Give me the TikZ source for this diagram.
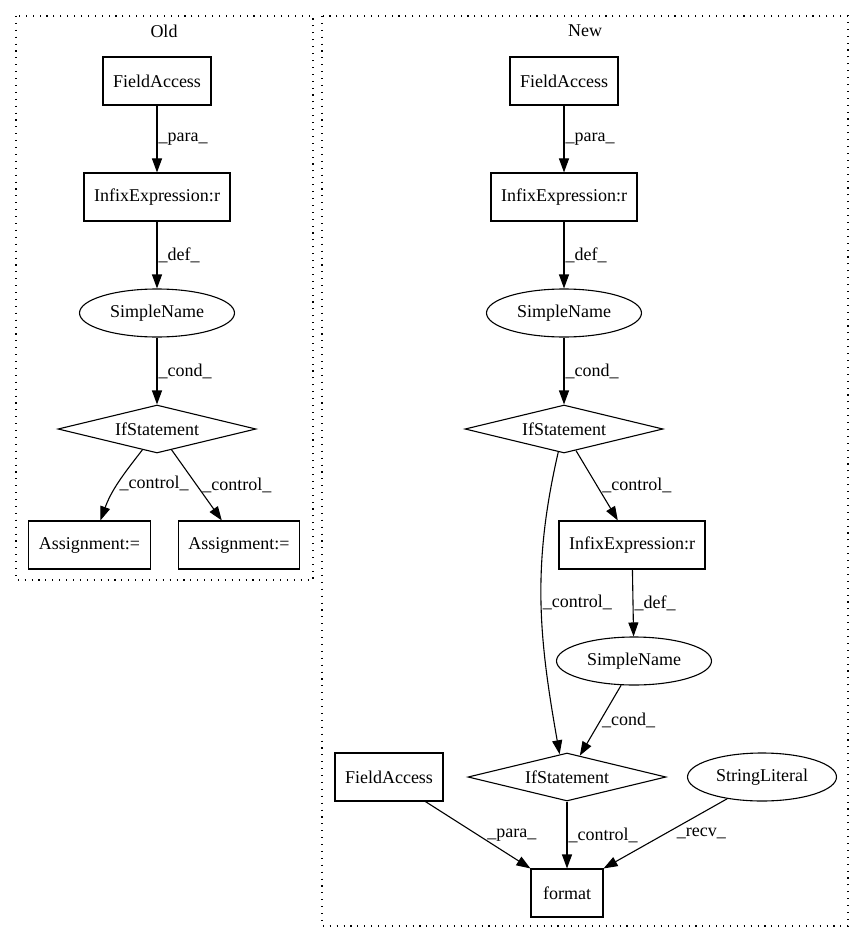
\documentclass[tikz,border=0pt]{standalone}
\usepackage{fontspec}
\setmainfont{Liberation Serif}
\usetikzlibrary{shapes.geometric,arrows.meta}

\begin{document}
\begin{tikzpicture}[x=1pt,y=1pt,font=\fontsize{18}{21}\selectfont,
  box/.style={draw,rectangle,line width=1.1pt,minimum width=72pt,minimum height=48pt,inner xsep=10pt},
  oval/.style={draw,ellipse,line width=1.1pt,minimum height=48pt,inner sep=0pt},
  cond/.style={draw,diamond,line width=1.1pt,aspect=4,minimum width=198pt,minimum height=48pt,inner sep=0pt},
  edge/.style={line width=1.1pt,-{Triangle[length=14pt,width=10pt]}},
  lbl/.style={midway,right,inner sep=1pt},
  cluster/.style={line width=1.1pt,dash pattern=on 1.1pt off 5.8pt}]
\useasboundingbox (0,0) rectangle (864,-944);
% clusters
\draw[cluster] (16,-16) rectangle (313,-580);
\draw[cluster] (322,-16) rectangle (848,-926);
\node (oldlbl) at (164,-31) {Old};
\node (newlbl) at (585,-31) {New};
% old
\node [box] (ofa) at (157,-81) {FieldAccess};
\node [box] (oinf) at (157,-197) {InfixExpression:r};
\node [oval,minimum width=155pt] (osn) at (157,-313) {SimpleName};
\node [cond] (oif) at (157,-429) {IfStatement};
\node [box] (oas1) at (89.5,-545) {Assignment:=};
\node [box] (oas2) at (239,-545) {Assignment:=};
\draw[edge] (ofa) -- node[lbl]{\_para\_} (oinf);
\draw[edge] (oinf) -- node[lbl]{\_def\_} (osn);
\draw[edge] (osn) -- node[lbl]{\_cond\_} (oif);
\draw[edge] (oif.-125) to[out=-128,in=70] node[lbl]{\_control\_} (oas1.66);
\draw[edge] (oif.-55) -- node[lbl,xshift=4pt]{\_control\_} (oas2.125);
% new
\node [box] (nfa) at (564,-81) {FieldAccess};
\node [box] (ninf) at (564,-197) {InfixExpression:r};
\node [oval,minimum width=155pt] (nsn) at (564,-313) {SimpleName};
\node [cond] (nif) at (564,-429) {IfStatement};
\node [box] (ninf2) at (632,-545) {InfixExpression:r};
\node [oval,minimum width=155pt] (nsn2) at (634,-661) {SimpleName};
\node [cond] (nif2) at (567,-777) {IfStatement};
\node [box] (nfa2) at (389,-777) {FieldAccess};
\node [oval,minimum width=149pt] (nstr) at (762,-777) {StringLiteral};
\node [box] (nfmt) at (567,-893) {format};
\draw[edge] (nfa) -- node[lbl]{\_para\_} (ninf);
\draw[edge] (ninf) -- node[lbl]{\_def\_} (nsn);
\draw[edge] (nsn) -- node[lbl]{\_cond\_} (nif);
\draw[edge] (nif.-61) -- node[lbl,xshift=4pt]{\_control\_} (ninf2.120);
\draw[edge] (nif.-104) to[out=-103,in=100] node[lbl]{\_control\_} (nif2.108);
\draw[edge] (ninf2) -- node[lbl]{\_def\_} (nsn2);
\draw[edge] (nsn2.-118) -- node[lbl]{\_cond\_} (nif2.59);
\draw[edge] (nfa2.-34) -- node[lbl,xshift=8pt]{\_para\_} (nfmt.north west);
\draw[edge] (nif2) -- node[lbl]{\_control\_} (nfmt);
\draw[edge] (nstr.-148) -- node[lbl,xshift=10pt]{\_recv\_} (nfmt.north east);
\end{tikzpicture}
\end{document}
